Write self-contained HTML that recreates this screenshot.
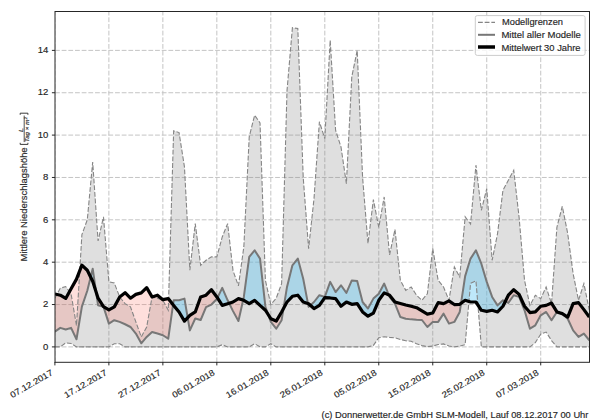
<!DOCTYPE html>
<html><head><meta charset="utf-8"><style>
html,body{margin:0;padding:0;background:#fff;}
svg{display:block;font-family:"Liberation Sans", sans-serif;}
text{stroke:#262626;stroke-width:0.15px;}
</style></head><body>
<svg width="600" height="420" viewBox="0 0 600 420">
<defs><clipPath id="pc"><rect x="55" y="11.5" width="534.5" height="350.8"/></clipPath></defs>
<g clip-path="url(#pc)">
<line x1="55" y1="346.9" x2="589.5" y2="346.9" stroke="#c4c4c4" stroke-width="1" stroke-dasharray="4.8 1.87"/>
<line x1="55" y1="304.54" x2="589.5" y2="304.54" stroke="#c4c4c4" stroke-width="1" stroke-dasharray="4.8 1.87"/>
<line x1="55" y1="262.18" x2="589.5" y2="262.18" stroke="#c4c4c4" stroke-width="1" stroke-dasharray="4.8 1.87"/>
<line x1="55" y1="219.82" x2="589.5" y2="219.82" stroke="#c4c4c4" stroke-width="1" stroke-dasharray="4.8 1.87"/>
<line x1="55" y1="177.46" x2="589.5" y2="177.46" stroke="#c4c4c4" stroke-width="1" stroke-dasharray="4.8 1.87"/>
<line x1="55" y1="135.1" x2="589.5" y2="135.1" stroke="#c4c4c4" stroke-width="1" stroke-dasharray="4.8 1.87"/>
<line x1="55" y1="92.74" x2="589.5" y2="92.74" stroke="#c4c4c4" stroke-width="1" stroke-dasharray="4.8 1.87"/>
<line x1="55" y1="50.38" x2="589.5" y2="50.38" stroke="#c4c4c4" stroke-width="1" stroke-dasharray="4.8 1.87"/>
<line x1="54.9" y1="362.3" x2="54.9" y2="11.5" stroke="#c4c4c4" stroke-width="1" stroke-dasharray="4.8 1.87"/>
<line x1="108.88" y1="362.3" x2="108.88" y2="11.5" stroke="#c4c4c4" stroke-width="1" stroke-dasharray="4.8 1.87"/>
<line x1="162.86" y1="362.3" x2="162.86" y2="11.5" stroke="#c4c4c4" stroke-width="1" stroke-dasharray="4.8 1.87"/>
<line x1="216.84" y1="362.3" x2="216.84" y2="11.5" stroke="#c4c4c4" stroke-width="1" stroke-dasharray="4.8 1.87"/>
<line x1="270.82" y1="362.3" x2="270.82" y2="11.5" stroke="#c4c4c4" stroke-width="1" stroke-dasharray="4.8 1.87"/>
<line x1="324.8" y1="362.3" x2="324.8" y2="11.5" stroke="#c4c4c4" stroke-width="1" stroke-dasharray="4.8 1.87"/>
<line x1="378.78" y1="362.3" x2="378.78" y2="11.5" stroke="#c4c4c4" stroke-width="1" stroke-dasharray="4.8 1.87"/>
<line x1="432.76" y1="362.3" x2="432.76" y2="11.5" stroke="#c4c4c4" stroke-width="1" stroke-dasharray="4.8 1.87"/>
<line x1="486.74" y1="362.3" x2="486.74" y2="11.5" stroke="#c4c4c4" stroke-width="1" stroke-dasharray="4.8 1.87"/>
<line x1="540.72" y1="362.3" x2="540.72" y2="11.5" stroke="#c4c4c4" stroke-width="1" stroke-dasharray="4.8 1.87"/>
<polygon points="54.9,298.19 60.3,288.23 65.7,286.54 71.09,293.95 76.49,325.72 81.89,234.65 87.29,219.82 92.69,162 98.08,241 103.48,216.85 108.88,281.88 114.28,282.94 119.68,296.92 125.07,303.69 130.47,306.87 135.87,321.91 141.27,336.95 146.67,326.99 152.06,296.92 157.46,298.19 162.86,300.3 168.26,310.26 173.66,130.86 179.05,132.56 184.45,166.87 189.85,270.23 195.25,223.63 200.65,265.36 206.04,260.27 211.44,256.88 216.84,256.88 222.24,236.98 227.64,223.63 233.03,270.65 238.43,285.9 243.83,246.93 249.23,136.79 254.63,115.19 260.02,122.82 265.42,280.39 270.82,304.54 276.22,298.19 281.62,283.57 287.01,90.62 292.41,27.72 297.81,28.56 303.21,177.46 308.61,248.62 314,198.64 319.4,121.76 324.8,138.49 330.2,40.21 335.6,130.23 340.99,146.96 346.39,183.6 351.79,76.85 357.19,50.38 362.59,177.46 367.98,243.54 373.38,199.49 378.78,227.44 384.18,196.95 389.58,254.98 394.97,229.35 400.37,280.39 405.77,290.35 411.17,286.96 416.57,295.22 421.96,300.3 427.36,293.74 432.76,248.62 438.16,280.39 443.56,286.96 448.95,300.3 454.35,267.05 459.75,277.01 465.15,216.85 470.55,224.06 475.94,165.18 481.34,210.29 486.74,188.69 492.14,260.27 497.54,233.59 502.93,190.38 508.33,180.21 513.73,170.26 519.13,217.7 524.53,280.39 529.92,305.39 535.32,295.22 540.72,298.61 546.12,286.96 551.52,303.69 556.91,227.23 562.31,206.26 567.71,233.59 573.11,273.62 578.51,300.3 583.9,283.57 589.3,310.26 589.3,346.9 583.9,346.9 578.51,346.9 573.11,346.9 567.71,346.9 562.31,346.9 556.91,346.9 551.52,340.55 546.12,332.07 540.72,334.19 535.32,342.66 529.92,346.9 524.53,346.9 519.13,346.9 513.73,346.9 508.33,346.9 502.93,346.9 497.54,346.9 492.14,346.9 486.74,346.9 481.34,346.9 475.94,280.82 470.55,283.36 465.15,344.57 459.75,346.05 454.35,346.9 448.95,346.05 443.56,343.93 438.16,344.57 432.76,346.05 427.36,346.69 421.96,345.63 416.57,343.72 411.17,341.18 405.77,340.76 400.37,339.49 394.97,337.79 389.58,337.37 384.18,336.73 378.78,337.79 373.38,345.42 367.98,346.9 362.59,346.9 357.19,346.9 351.79,346.9 346.39,346.9 340.99,346.9 335.6,346.9 330.2,346.9 324.8,346.9 319.4,346.9 314,346.9 308.61,346.9 303.21,346.9 297.81,346.9 292.41,346.9 287.01,346.9 281.62,346.9 276.22,346.9 270.82,343.72 265.42,346.9 260.02,346.9 254.63,343.72 249.23,346.9 243.83,346.9 238.43,346.9 233.03,346.9 227.64,346.9 222.24,344.78 216.84,346.9 211.44,346.9 206.04,346.9 200.65,346.9 195.25,346.9 189.85,346.9 184.45,346.9 179.05,346.9 173.66,346.9 168.26,346.9 162.86,346.9 157.46,346.9 152.06,346.9 146.67,346.9 141.27,346.9 135.87,346.9 130.47,346.9 125.07,346.9 119.68,343.72 114.28,343.72 108.88,346.9 103.48,346.9 98.08,346.9 92.69,346.9 87.29,346.9 81.89,346.9 76.49,346.9 71.09,343.51 65.7,342.88 60.3,346.9 54.9,346.9" fill="rgb(128,128,128)" fill-opacity="0.25"/>
<polygon points="54.9,293.95 60.3,295.22 65.7,298.4 71.09,288.65 76.49,279.12 81.89,265.15 87.29,270.23 90.64,277.08 90.64,277.08 87.29,290.77 81.89,306.66 76.49,339.28 71.09,327.84 65.7,329.53 60.3,327.84 54.9,331.65" fill="rgb(250,128,114)" fill-opacity="0.25"/>
<polygon points="96.11,291.99 98.08,298.19 103.48,306.66 108.88,309.83 114.28,306.87 119.68,296.92 125.07,292.68 130.47,298.19 135.87,294.37 141.27,292.89 146.67,287.6 152.06,296.92 157.46,295.22 162.86,299.67 168.26,298.61 173.05,304.62 173.05,304.62 168.26,338.64 162.86,335.25 157.46,333.56 152.06,332.07 146.67,336.95 141.27,343.3 135.87,333.56 130.47,326.99 125.07,324.24 119.68,321.91 114.28,320.21 108.88,323.6 103.48,306.66 98.08,305.39 96.11,291.99" fill="rgb(250,128,114)" fill-opacity="0.25"/>
<polygon points="187.68,317.64 189.85,315.34 195.25,311.95 200.65,296.92 206.04,295.22 211.44,289.71 216.84,296.92 217.42,297.83 217.42,297.83 216.84,299.03 211.44,304.54 206.04,307.08 200.65,320 195.25,318.52 189.85,330.38 187.68,317.64" fill="rgb(250,128,114)" fill-opacity="0.25"/>
<polygon points="229.1,303.23 233.03,302 238.43,298.61 243.12,300.08 243.12,300.08 238.43,321.06 233.03,311.11 229.1,303.23" fill="rgb(250,128,114)" fill-opacity="0.25"/>
<polygon points="268.21,314.63 270.82,318.73 276.22,321.06 281.62,311.95 283.53,308.42 283.53,308.42 281.62,320.21 276.22,328.69 270.82,321.91 268.21,314.63" fill="rgb(250,128,114)" fill-opacity="0.25"/>
<polygon points="307.96,303.49 308.61,303.69 310.37,305.28 310.37,305.28 308.61,306.87 307.96,303.49" fill="rgb(250,128,114)" fill-opacity="0.25"/>
<polygon points="388.75,294.86 389.58,295.22 394.97,302 400.37,303.48 405.77,304.96 411.17,306.23 416.57,307.72 421.96,310.89 427.36,314.07 432.76,313.01 438.16,302.63 443.56,303.69 448.95,300.94 454.35,304.54 459.75,304.33 461.05,303.36 461.05,303.36 459.75,311.95 454.35,321.91 448.95,323.6 443.56,313.65 438.16,321.91 432.76,321.91 427.36,326.99 421.96,320 416.57,319.79 411.17,319.37 405.77,318.73 400.37,317.04 394.97,303.69 389.58,296.92 388.75,294.86" fill="rgb(250,128,114)" fill-opacity="0.25"/>
<polygon points="505.3,301.42 508.33,295.22 513.73,289.71 519.13,294.37 524.53,306.23 529.92,312.59 535.32,311.95 540.72,306.23 546.12,305.39 551.52,303.06 556.91,311.95 562.31,313.65 567.71,317.04 573.11,303.69 578.51,302.63 583.9,309.62 589.3,317.04 589.3,340.33 583.9,333.56 578.51,336.95 573.11,330.38 567.71,318.73 562.31,313.65 556.91,311.95 551.52,320.21 546.12,311.95 540.72,315.34 535.32,325.3 529.92,328.69 524.53,310.26 519.13,296.92 513.73,295.22 508.33,302.85 505.3,301.42" fill="rgb(250,128,114)" fill-opacity="0.25"/>
<polygon points="90.64,277.08 92.69,268.75 96.11,291.99 96.11,291.99 92.69,281.24 90.64,277.08" fill="rgb(100,200,243)" fill-opacity="0.42"/>
<polygon points="173.05,304.62 173.66,300.3 179.05,300.3 184.45,298.61 187.68,317.64 187.68,317.64 184.45,321.06 179.05,311.95 173.66,305.39 173.05,304.62" fill="rgb(100,200,243)" fill-opacity="0.42"/>
<polygon points="217.42,297.83 222.24,287.81 227.64,300.3 229.1,303.23 229.1,303.23 227.64,303.69 222.24,305.39 217.42,297.83" fill="rgb(100,200,243)" fill-opacity="0.42"/>
<polygon points="243.12,300.08 243.83,296.92 249.23,256.88 254.63,250.32 260.02,258.58 265.42,306.87 268.21,314.63 268.21,314.63 265.42,310.26 260.02,305.39 254.63,300.3 249.23,303.69 243.83,300.3 243.12,300.08" fill="rgb(100,200,243)" fill-opacity="0.42"/>
<polygon points="283.53,308.42 287.01,286.96 292.41,265.36 297.81,258.58 303.21,278.7 307.96,303.49 307.96,303.49 303.21,302 297.81,295.22 292.41,296.28 287.01,302 283.53,308.42" fill="rgb(100,200,243)" fill-opacity="0.42"/>
<polygon points="310.37,305.28 314,302 319.4,295.22 324.8,296.92 330.2,281.88 335.6,292.04 340.99,285.27 346.39,292.89 351.79,280.39 357.19,281.03 362.59,302 367.98,308.56 373.38,298.61 378.78,293.74 384.18,283.57 388.75,294.86 388.75,294.86 384.18,292.89 378.78,300.3 373.38,313.01 367.98,316.19 362.59,311.95 357.19,303.69 351.79,304.33 346.39,302 340.99,306.23 335.6,298.61 330.2,297.97 324.8,297.55 319.4,305.39 314,308.56 310.37,305.28" fill="rgb(100,200,243)" fill-opacity="0.42"/>
<polygon points="461.05,303.36 465.15,276.16 470.55,258.58 475.94,250.32 481.34,263.66 486.74,281.88 492.14,296.92 497.54,305.39 502.93,300.3 505.3,301.42 505.3,301.42 502.93,306.23 497.54,311.95 492.14,310.26 486.74,311.32 481.34,310.26 475.94,302 470.55,302 465.15,300.3 461.05,303.36" fill="rgb(100,200,243)" fill-opacity="0.42"/>
<polyline points="54.9,298.19 60.3,288.23 65.7,286.54 71.09,293.95 76.49,325.72 81.89,234.65 87.29,219.82 92.69,162 98.08,241 103.48,216.85 108.88,281.88 114.28,282.94 119.68,296.92 125.07,303.69 130.47,306.87 135.87,321.91 141.27,336.95 146.67,326.99 152.06,296.92 157.46,298.19 162.86,300.3 168.26,310.26 173.66,130.86 179.05,132.56 184.45,166.87 189.85,270.23 195.25,223.63 200.65,265.36 206.04,260.27 211.44,256.88 216.84,256.88 222.24,236.98 227.64,223.63 233.03,270.65 238.43,285.9 243.83,246.93 249.23,136.79 254.63,115.19 260.02,122.82 265.42,280.39 270.82,304.54 276.22,298.19 281.62,283.57 287.01,90.62 292.41,27.72 297.81,28.56 303.21,177.46 308.61,248.62 314,198.64 319.4,121.76 324.8,138.49 330.2,40.21 335.6,130.23 340.99,146.96 346.39,183.6 351.79,76.85 357.19,50.38 362.59,177.46 367.98,243.54 373.38,199.49 378.78,227.44 384.18,196.95 389.58,254.98 394.97,229.35 400.37,280.39 405.77,290.35 411.17,286.96 416.57,295.22 421.96,300.3 427.36,293.74 432.76,248.62 438.16,280.39 443.56,286.96 448.95,300.3 454.35,267.05 459.75,277.01 465.15,216.85 470.55,224.06 475.94,165.18 481.34,210.29 486.74,188.69 492.14,260.27 497.54,233.59 502.93,190.38 508.33,180.21 513.73,170.26 519.13,217.7 524.53,280.39 529.92,305.39 535.32,295.22 540.72,298.61 546.12,286.96 551.52,303.69 556.91,227.23 562.31,206.26 567.71,233.59 573.11,273.62 578.51,300.3 583.9,283.57 589.3,310.26" fill="none" stroke="#858585" stroke-width="1.1" stroke-dasharray="4.8 1.87"/>
<polyline points="54.9,346.9 60.3,346.9 65.7,342.88 71.09,343.51 76.49,346.9 81.89,346.9 87.29,346.9 92.69,346.9 98.08,346.9 103.48,346.9 108.88,346.9 114.28,343.72 119.68,343.72 125.07,346.9 130.47,346.9 135.87,346.9 141.27,346.9 146.67,346.9 152.06,346.9 157.46,346.9 162.86,346.9 168.26,346.9 173.66,346.9 179.05,346.9 184.45,346.9 189.85,346.9 195.25,346.9 200.65,346.9 206.04,346.9 211.44,346.9 216.84,346.9 222.24,344.78 227.64,346.9 233.03,346.9 238.43,346.9 243.83,346.9 249.23,346.9 254.63,343.72 260.02,346.9 265.42,346.9 270.82,343.72 276.22,346.9 281.62,346.9 287.01,346.9 292.41,346.9 297.81,346.9 303.21,346.9 308.61,346.9 314,346.9 319.4,346.9 324.8,346.9 330.2,346.9 335.6,346.9 340.99,346.9 346.39,346.9 351.79,346.9 357.19,346.9 362.59,346.9 367.98,346.9 373.38,345.42 378.78,337.79 384.18,336.73 389.58,337.37 394.97,337.79 400.37,339.49 405.77,340.76 411.17,341.18 416.57,343.72 421.96,345.63 427.36,346.69 432.76,346.05 438.16,344.57 443.56,343.93 448.95,346.05 454.35,346.9 459.75,346.05 465.15,344.57 470.55,283.36 475.94,280.82 481.34,346.9 486.74,346.9 492.14,346.9 497.54,346.9 502.93,346.9 508.33,346.9 513.73,346.9 519.13,346.9 524.53,346.9 529.92,346.9 535.32,342.66 540.72,334.19 546.12,332.07 551.52,340.55 556.91,346.9 562.31,346.9 567.71,346.9 573.11,346.9 578.51,346.9 583.9,346.9 589.3,346.9" fill="none" stroke="#858585" stroke-width="1.1" stroke-dasharray="4.8 1.87"/>
<polyline points="54.9,331.65 60.3,327.84 65.7,329.53 71.09,327.84 76.49,339.28 81.89,306.66 87.29,290.77 92.69,268.75 98.08,305.39 103.48,306.66 108.88,323.6 114.28,320.21 119.68,321.91 125.07,324.24 130.47,326.99 135.87,333.56 141.27,343.3 146.67,336.95 152.06,332.07 157.46,333.56 162.86,335.25 168.26,338.64 173.66,300.3 179.05,300.3 184.45,298.61 189.85,330.38 195.25,318.52 200.65,320 206.04,307.08 211.44,304.54 216.84,299.03 222.24,287.81 227.64,300.3 233.03,311.11 238.43,321.06 243.83,296.92 249.23,256.88 254.63,250.32 260.02,258.58 265.42,306.87 270.82,321.91 276.22,328.69 281.62,320.21 287.01,286.96 292.41,265.36 297.81,258.58 303.21,278.7 308.61,306.87 314,302 319.4,295.22 324.8,296.92 330.2,281.88 335.6,292.04 340.99,285.27 346.39,292.89 351.79,280.39 357.19,281.03 362.59,302 367.98,308.56 373.38,298.61 378.78,293.74 384.18,283.57 389.58,296.92 394.97,303.69 400.37,317.04 405.77,318.73 411.17,319.37 416.57,319.79 421.96,320 427.36,326.99 432.76,321.91 438.16,321.91 443.56,313.65 448.95,323.6 454.35,321.91 459.75,311.95 465.15,276.16 470.55,258.58 475.94,250.32 481.34,263.66 486.74,281.88 492.14,296.92 497.54,305.39 502.93,300.3 508.33,302.85 513.73,295.22 519.13,296.92 524.53,310.26 529.92,328.69 535.32,325.3 540.72,315.34 546.12,311.95 551.52,320.21 556.91,311.95 562.31,313.65 567.71,318.73 573.11,330.38 578.51,336.95 583.9,333.56 589.3,340.33" fill="none" stroke="#777" stroke-width="2" stroke-linejoin="round"/>
<polyline points="54.9,293.95 60.3,295.22 65.7,298.4 71.09,288.65 76.49,279.12 81.89,265.15 87.29,270.23 92.69,281.24 98.08,298.19 103.48,306.66 108.88,309.83 114.28,306.87 119.68,296.92 125.07,292.68 130.47,298.19 135.87,294.37 141.27,292.89 146.67,287.6 152.06,296.92 157.46,295.22 162.86,299.67 168.26,298.61 173.66,305.39 179.05,311.95 184.45,321.06 189.85,315.34 195.25,311.95 200.65,296.92 206.04,295.22 211.44,289.71 216.84,296.92 222.24,305.39 227.64,303.69 233.03,302 238.43,298.61 243.83,300.3 249.23,303.69 254.63,300.3 260.02,305.39 265.42,310.26 270.82,318.73 276.22,321.06 281.62,311.95 287.01,302 292.41,296.28 297.81,295.22 303.21,302 308.61,303.69 314,308.56 319.4,305.39 324.8,297.55 330.2,297.97 335.6,298.61 340.99,306.23 346.39,302 351.79,304.33 357.19,303.69 362.59,311.95 367.98,316.19 373.38,313.01 378.78,300.3 384.18,292.89 389.58,295.22 394.97,302 400.37,303.48 405.77,304.96 411.17,306.23 416.57,307.72 421.96,310.89 427.36,314.07 432.76,313.01 438.16,302.63 443.56,303.69 448.95,300.94 454.35,304.54 459.75,304.33 465.15,300.3 470.55,302 475.94,302 481.34,310.26 486.74,311.32 492.14,310.26 497.54,311.95 502.93,306.23 508.33,295.22 513.73,289.71 519.13,294.37 524.53,306.23 529.92,312.59 535.32,311.95 540.72,306.23 546.12,305.39 551.52,303.06 556.91,311.95 562.31,313.65 567.71,317.04 573.11,303.69 578.51,302.63 583.9,309.62 589.3,317.04" fill="none" stroke="#000" stroke-width="3.2" stroke-linejoin="round"/>
</g>
<rect x="55" y="11.5" width="534.5" height="350.8" fill="none" stroke="#262626" stroke-width="1.0"/>
<line x1="51.9" y1="346.9" x2="55" y2="346.9" stroke="#262626" stroke-width="1"/>
<text x="48.3" y="349.65" text-anchor="end" font-size="8.6" textLength="5.3" lengthAdjust="spacingAndGlyphs" fill="#262626">0</text>
<line x1="51.9" y1="304.54" x2="55" y2="304.54" stroke="#262626" stroke-width="1"/>
<text x="48.3" y="307.29" text-anchor="end" font-size="8.6" textLength="5.3" lengthAdjust="spacingAndGlyphs" fill="#262626">2</text>
<line x1="51.9" y1="262.18" x2="55" y2="262.18" stroke="#262626" stroke-width="1"/>
<text x="48.3" y="264.93" text-anchor="end" font-size="8.6" textLength="5.3" lengthAdjust="spacingAndGlyphs" fill="#262626">4</text>
<line x1="51.9" y1="219.82" x2="55" y2="219.82" stroke="#262626" stroke-width="1"/>
<text x="48.3" y="222.57" text-anchor="end" font-size="8.6" textLength="5.3" lengthAdjust="spacingAndGlyphs" fill="#262626">6</text>
<line x1="51.9" y1="177.46" x2="55" y2="177.46" stroke="#262626" stroke-width="1"/>
<text x="48.3" y="180.21" text-anchor="end" font-size="8.6" textLength="5.3" lengthAdjust="spacingAndGlyphs" fill="#262626">8</text>
<line x1="51.9" y1="135.1" x2="55" y2="135.1" stroke="#262626" stroke-width="1"/>
<text x="48.3" y="137.85" text-anchor="end" font-size="8.6" textLength="10.6" lengthAdjust="spacingAndGlyphs" fill="#262626">10</text>
<line x1="51.9" y1="92.74" x2="55" y2="92.74" stroke="#262626" stroke-width="1"/>
<text x="48.3" y="95.49" text-anchor="end" font-size="8.6" textLength="10.6" lengthAdjust="spacingAndGlyphs" fill="#262626">12</text>
<line x1="51.9" y1="50.38" x2="55" y2="50.38" stroke="#262626" stroke-width="1"/>
<text x="48.3" y="53.13" text-anchor="end" font-size="8.6" textLength="10.6" lengthAdjust="spacingAndGlyphs" fill="#262626">14</text>
<line x1="54.9" y1="362" x2="54.9" y2="365.4" stroke="#262626" stroke-width="1"/>
<text transform="translate(50.4,369) rotate(-30)" text-anchor="end" font-size="8.6" y="6.2" textLength="47.7" lengthAdjust="spacingAndGlyphs" fill="#262626">07.12.2017</text>
<line x1="108.88" y1="362" x2="108.88" y2="365.4" stroke="#262626" stroke-width="1"/>
<text transform="translate(104.38,369) rotate(-30)" text-anchor="end" font-size="8.6" y="6.2" textLength="47.7" lengthAdjust="spacingAndGlyphs" fill="#262626">17.12.2017</text>
<line x1="162.86" y1="362" x2="162.86" y2="365.4" stroke="#262626" stroke-width="1"/>
<text transform="translate(158.36,369) rotate(-30)" text-anchor="end" font-size="8.6" y="6.2" textLength="47.7" lengthAdjust="spacingAndGlyphs" fill="#262626">27.12.2017</text>
<line x1="216.84" y1="362" x2="216.84" y2="365.4" stroke="#262626" stroke-width="1"/>
<text transform="translate(212.34,369) rotate(-30)" text-anchor="end" font-size="8.6" y="6.2" textLength="47.7" lengthAdjust="spacingAndGlyphs" fill="#262626">06.01.2018</text>
<line x1="270.82" y1="362" x2="270.82" y2="365.4" stroke="#262626" stroke-width="1"/>
<text transform="translate(266.32,369) rotate(-30)" text-anchor="end" font-size="8.6" y="6.2" textLength="47.7" lengthAdjust="spacingAndGlyphs" fill="#262626">16.01.2018</text>
<line x1="324.8" y1="362" x2="324.8" y2="365.4" stroke="#262626" stroke-width="1"/>
<text transform="translate(320.3,369) rotate(-30)" text-anchor="end" font-size="8.6" y="6.2" textLength="47.7" lengthAdjust="spacingAndGlyphs" fill="#262626">26.01.2018</text>
<line x1="378.78" y1="362" x2="378.78" y2="365.4" stroke="#262626" stroke-width="1"/>
<text transform="translate(374.28,369) rotate(-30)" text-anchor="end" font-size="8.6" y="6.2" textLength="47.7" lengthAdjust="spacingAndGlyphs" fill="#262626">05.02.2018</text>
<line x1="432.76" y1="362" x2="432.76" y2="365.4" stroke="#262626" stroke-width="1"/>
<text transform="translate(428.26,369) rotate(-30)" text-anchor="end" font-size="8.6" y="6.2" textLength="47.7" lengthAdjust="spacingAndGlyphs" fill="#262626">15.02.2018</text>
<line x1="486.74" y1="362" x2="486.74" y2="365.4" stroke="#262626" stroke-width="1"/>
<text transform="translate(482.24,369) rotate(-30)" text-anchor="end" font-size="8.6" y="6.2" textLength="47.7" lengthAdjust="spacingAndGlyphs" fill="#262626">25.02.2018</text>
<line x1="540.72" y1="362" x2="540.72" y2="365.4" stroke="#262626" stroke-width="1"/>
<text transform="translate(536.22,369) rotate(-30)" text-anchor="end" font-size="8.6" y="6.2" textLength="47.7" lengthAdjust="spacingAndGlyphs" fill="#262626">07.03.2018</text>
<g transform="translate(27.4,261.4) rotate(-90)" fill="#262626"><text x="0" y="0" font-size="8.6" textLength="114" lengthAdjust="spacingAndGlyphs">Mittlere Niederschlagshöhe</text><path d="M118.6,-7.2 H117 V0.5 H118.6 M146.6,-7.2 H148.2 V0.5 H146.6" fill="none" stroke="#262626" stroke-width="0.9"/><line x1="119.3" y1="-3.2" x2="145.8" y2="-3.2" stroke="#262626" stroke-width="0.8"/><text x="129.5" y="-4.8" font-size="4.6" font-style="italic" textLength="4" lengthAdjust="spacingAndGlyphs">L</text><text x="119.3" y="1.8" font-size="4.6" font-style="italic" textLength="22.5" lengthAdjust="spacingAndGlyphs">Tag × m</text><text x="142.3" y="-0.6" font-size="3.2" font-style="italic">2</text></g>
<rect x="475.3" y="15.6" width="109.8" height="39.8" rx="2" fill="#fff" fill-opacity="0.8" stroke="#ccc" stroke-width="1"/>
<line x1="478" y1="22.4" x2="495" y2="22.4" stroke="#858585" stroke-width="1.1" stroke-dasharray="4.8 1.87"/>
<line x1="478" y1="34.8" x2="495" y2="34.8" stroke="#777" stroke-width="2"/>
<line x1="478" y1="47" x2="495" y2="47" stroke="#000" stroke-width="3.5"/>
<text x="502" y="24.8" font-size="8.6" textLength="61" lengthAdjust="spacingAndGlyphs" fill="#262626">Modellgrenzen</text>
<text x="501.4" y="38" font-size="8.6" textLength="79.5" lengthAdjust="spacingAndGlyphs" fill="#262626">Mittel aller Modelle</text>
<text x="501.4" y="50.6" font-size="8.6" textLength="79.2" lengthAdjust="spacingAndGlyphs" fill="#262626">Mittelwert 30 Jahre</text>
<text x="321.6" y="418" font-size="8.6" textLength="266.8" lengthAdjust="spacingAndGlyphs" fill="#262626">(c) Donnerwetter.de GmbH SLM-Modell, Lauf 08.12.2017 00 Uhr</text>
</svg>
</body></html>
